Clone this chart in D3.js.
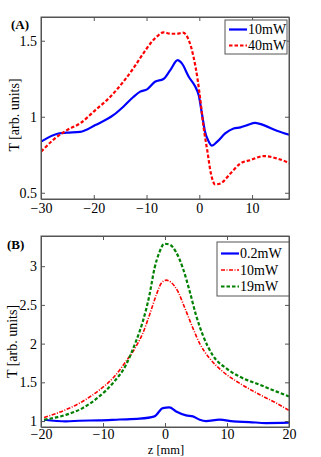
<!DOCTYPE html>
<html>
<head>
<meta charset="utf-8">
<script src="https://cdn.jsdelivr.net/npm/d3@7.9.0/dist/d3.min.js"></script>
<style>
  body { margin: 0; background: #fff; }
</style>
</head>
<body>
<svg id="chart" width="321" height="457" font-family="Liberation Serif"></svg>
<script>
// Panel A: z [mm] vs T
const zA10 = [-30, -26.7, -25.1, -22.6, -19.7, -16.3, -14.4, -12.5, -11.2, -9.9, -8.4, -6.8, -5.5, -4.1, -3.3, -2.0, -0.8, -0.1, 0.5, 1.1, 1.8, 2.4, 3.4, 4.9, 6.5, 7.8, 9.1, 10.6, 12.2, 14.7, 17.2];
const tA10 = [0.836, 0.89, 0.895, 0.90, 0.945, 1.01, 1.066, 1.13, 1.165, 1.18, 1.23, 1.248, 1.307, 1.373, 1.351, 1.263, 1.20, 1.14, 1.02, 0.90, 0.836, 0.81, 0.836, 0.89, 0.923, 0.93, 0.945, 0.96, 0.945, 0.908, 0.88];
const zA40 = [-30, -27.7, -25.1, -22.6, -19.7, -16.9, -14.4, -12.5, -10.6, -9.0, -7.7, -6.8, -5.5, -4.2, -3.1, -2.0, -1.1, -0.3, 0.2, 0.8, 1.5, 2.2, 3.0, 4.0, 5.9, 7.8, 9.7, 12.2, 14.7, 17.2];
const tA40 = [0.77, 0.847, 0.912, 0.956, 1.044, 1.13, 1.23, 1.318, 1.417, 1.493, 1.537, 1.555, 1.546, 1.546, 1.553, 1.504, 1.395, 1.241, 1.11, 0.934, 0.78, 0.627, 0.555, 0.561, 0.627, 0.693, 0.715, 0.741, 0.726, 0.693];

// Panel B
const zB02 = [-19.5, -16, -13.8, -10.6, -7.3, -4.1, -1.7, -0.35, 0.7, 1.8, 3.4, 4.5, 5.6, 6.6, 8.8, 11.0, 13.6, 16.3, 20];
const tB02 = [1.017, 0.996, 1.004, 1.009, 1.02, 1.03, 1.06, 1.167, 1.176, 1.124, 1.073, 1.06, 1.017, 1.0, 1.017, 0.996, 0.987, 0.974, 0.979];
const zB10 = [-19.5, -16, -13.3, -10.6, -8.4, -6.3, -4.7, -3.6, -2.5, -1.4, -0.6, 0.2, 1.0, 2.1, 3.1, 4.5, 5.6, 7.2, 9.3, 12.0, 15.3, 18.0, 20];
const tB10 = [1.047, 1.146, 1.253, 1.40, 1.554, 1.77, 1.96, 2.13, 2.37, 2.63, 2.78, 2.82, 2.79, 2.67, 2.48, 2.20, 2.0, 1.81, 1.64, 1.49, 1.34, 1.23, 1.137];
const zB19 = [-19.5, -16, -13.3, -10.6, -8.4, -6.3, -4.7, -3.6, -2.5, -1.7, -0.9, -0.1, 0.7, 1.8, 2.9, 4.0, 5.0, 6.1, 7.7, 9.9, 12.0, 15.3, 18.0, 20];
const tB19 = [1.017, 1.08, 1.167, 1.318, 1.49, 1.725, 2.026, 2.28, 2.63, 2.97, 3.18, 3.29, 3.28, 3.18, 2.97, 2.67, 2.37, 2.11, 1.85, 1.68, 1.575, 1.468, 1.38, 1.318];

const xTicksA = [-30, -20, -10, 0, 10];
const yTicksA = [0.5, 1, 1.5];
const xTicksB = [-20, -10, 0, 10, 20];
const yTicksB = [1, 1.5, 2, 2.5, 3];

const FONT = 'Liberation Serif';
const FS = 14;
const svg = d3.select('#chart');
const fmt = (d) => String(d).replace('-', '\u2212');

function drawPanel(cfg) {
    const x = d3.scaleLinear().domain(cfg.xDomain).range([41, 289]);
    const y = d3.scaleLinear().domain(cfg.yDomain).range([cfg.bottom, cfg.top]);
    const g = svg.append('g');

    // clip for lines
    const clipId = 'clip' + cfg.name;
    g.append('clipPath').attr('id', clipId).append('rect')
        .attr('x', 41).attr('y', cfg.top).attr('width', 248).attr('height', cfg.bottom - cfg.top);

    const line = d3.line().curve(d3.curveMonotoneX).x(d => x(d[0])).y(d => y(d[1]));
    cfg.series.forEach(s => {
        g.append('path')
            .attr('clip-path', `url(#${clipId})`)
            .attr('d', line(d3.zip(s.z, s.t)))
            .attr('fill', 'none')
            .attr('stroke', s.color)
            .attr('stroke-width', s.width)
            .attr('stroke-dasharray', s.dash);
    });

    // axes with inward ticks, mirrored on top and right
    const tickLen = -4;
    g.append('g').attr('transform', `translate(0,${cfg.bottom})`)
        .call(d3.axisBottom(x).tickValues(cfg.xTicks).tickSizeInner(tickLen).tickSizeOuter(0).tickPadding(cfg.xPad).tickFormat(fmt));
    g.append('g').attr('transform', `translate(0,${cfg.top})`)
        .call(d3.axisTop(x).tickValues(cfg.xTicks).tickSizeInner(tickLen).tickSizeOuter(0).tickFormat(''));
    g.append('g').attr('transform', 'translate(41,0)')
        .call(d3.axisLeft(y).tickValues(cfg.yTicks).tickSizeInner(tickLen).tickSizeOuter(0).tickPadding(4).tickFormat(d => String(d)));
    g.append('g').attr('transform', 'translate(289,0)')
        .call(d3.axisRight(y).tickValues(cfg.yTicks).tickSizeInner(tickLen).tickSizeOuter(0).tickFormat(''));
    g.selectAll('g').attr('font-family', FONT).attr('font-size', FS);
    g.selectAll('.domain').attr('stroke', '#555');
    g.selectAll('.tick line').attr('stroke', '#555');
    g.selectAll('.tick text').attr('font-family', FONT).attr('font-size', FS);

    g.append('rect').attr('x', 41).attr('y', cfg.top).attr('width', 248).attr('height', cfg.bottom - cfg.top)
        .attr('fill', 'none').attr('stroke', '#555').attr('stroke-width', 1);

    // panel letter
    g.append('text').attr('x', cfg.letterX).attr('y', cfg.letterY)
        .attr('font-family', FONT).attr('font-size', 13).attr('font-weight', 'bold').text(cfg.letter);

    // y label
    g.append('text')
        .attr('transform', `translate(${cfg.ylabX},${cfg.ylabY}) rotate(-90)`)
        .attr('text-anchor', 'middle').attr('font-family', FONT).attr('font-size', FS).text('T [arb. units]');

    // legend
    const lg = cfg.legend;
    g.append('rect').attr('x', lg.x).attr('y', lg.y).attr('width', lg.w).attr('height', lg.h)
        .attr('fill', '#fff').attr('stroke', '#555').attr('stroke-width', 1);
    cfg.series.forEach((s, i) => {
        const cy = lg.y + lg.first + i * lg.row;
        g.append('line').attr('x1', lg.x + 4).attr('x2', lg.x + 22).attr('y1', cy).attr('y2', cy)
            .attr('stroke', s.color).attr('stroke-width', s.width).attr('stroke-dasharray', s.dash);
        g.append('text').attr('x', lg.x + 23).attr('y', cy + 4.8)
            .attr('font-family', FONT).attr('font-size', FS).text(s.label);
    });
}

drawPanel({
    name: 'A', letter: '(A)', letterX: 11, letterY: 28.5,
    xDomain: [-30, 17], yDomain: [0.459, 1.656], top: 17, bottom: 199,
    xTicks: xTicksA, yTicks: yTicksA, ylabX: 18.5, ylabY: 115, xPad: 4,
    legend: { x: 225, y: 20, w: 62, h: 34, first: 9.5, row: 16 },
    series: [
        { z: zA10, t: tA10, color: '#0000ff', width: 2.2, dash: null, label: '10mW' },
        { z: zA40, t: tA40, color: '#ff0000', width: 2.2, dash: '3.5,2', label: '40mW' }
    ]
});

drawPanel({
    name: 'B', letter: '(B)', letterX: 7, letterY: 248.5,
    xDomain: [-20, 20], yDomain: [0.923, 3.39], top: 236, bottom: 427,
    xTicks: xTicksB, yTicks: yTicksB, ylabX: 16.5, ylabY: 341.5, xPad: 2.5,
    legend: { x: 217, y: 242, w: 72, h: 54, first: 11.5, row: 16.5 },
    series: [
        { z: zB02, t: tB02, color: '#0000ff', width: 2.2, dash: null, label: '0.2mW' },
        { z: zB10, t: tB10, color: '#ff0000', width: 1.6, dash: '4,1.5,1,1.5', label: '10mW' },
        { z: zB19, t: tB19, color: '#008000', width: 2.2, dash: '3.5,2', label: '19mW' }
    ]
});

svg.append('text').attr('x', 166).attr('y', 453.5).attr('text-anchor', 'middle')
    .attr('font-family', FONT).attr('font-size', 12.5).text('z [mm]');
</script>
</body>
</html>
